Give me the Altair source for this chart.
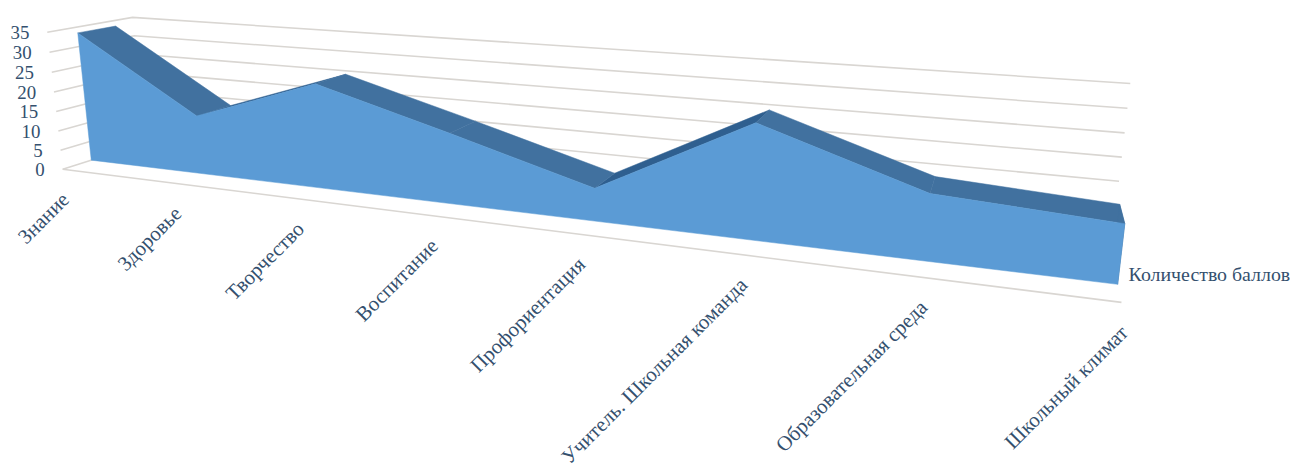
import numpy as np
import pandas as pd
import altair as alt

categories = ["Знание", "Здоровье", "Творчество", "Воспитание", "Профориентация",
              "Учитель. Школьная команда", "Образовательная среда", "Школьный климат"]
values = [33.5, 14.8, 25.5, 16.7, 7.5, 25.2, 14.0, 12.0]
axis_ticks = [0, 5, 10, 15, 20, 25, 30, 35]
series_name = "Количество баллов"

# camera calibration of the 3D box: (category, value, depth) -> page position
calib = [
    (0, 0, 0, 65, 168), (0, 35, 0, 48, 32), (0, 0, 1, 147, 149), (0, 35, 1, 133, 14),
    (7, 0, 1, 1118, 250), (7, 35, 1, 1137, 81), (7, 0, 0, 1129, 305), (7, 35, 0, 1151, 116),
    (0, 0, .33, 90, 158), (1, 0, .33, 200, 171), (2, 0, .33, 322, 186), (4, 0, .33, 600, 220),
    (5, 0, .33, 757, 240), (6, 0, .33, 931, 261), (7, 0, .33, 1123, 285),
]
A, b = [], []
for t, v, d, x, y in calib:
    X = [t / 7, v / 35, d, 1]
    A.append(X + [0, 0, 0, 0] + [-x * c for c in X[:3]]); b.append(x)
    A.append([0, 0, 0, 0] + X + [-y * c for c in X[:3]]); b.append(y)
P = np.append(np.linalg.lstsq(np.array(A, float), np.array(b, float), rcond=None)[0], 1).reshape(3, 4)


def proj(t, v, d):
    h = P @ np.array([t / 7, v / 35, d, 1])
    return float(h[0] / h[2]), float(h[1] / h[2])


D_FRONT, D_BACK = 0.33, 0.78
W, H = 1290, 462
xs = alt.Scale(domain=[8, 8 + W], range=[0, W])
ys = alt.Scale(domain=[8, 8 + H], range=[0, H])


def rows(group, pts):
    out = []
    for k, (t, v, d) in enumerate(pts):
        x, y = proj(t, v, d)
        out.append({"g": group, "k": k, "x": x, "y": y})
    return pd.DataFrame(out)


def poly(df, color):
    return alt.Chart(df).mark_line(fill=color, stroke=color, strokeWidth=0.5,
                                   interpolate="linear-closed").encode(
        x=alt.X("x:Q", scale=xs, axis=None), y=alt.Y("y:Q", scale=ys, axis=None),
        detail="g:N", order="k:Q")


grid = [rows(f"v{v}", [(0, v, 0), (0, v, 1), (7, v, 1)]) for v in axis_ticks]
grid.append(rows("floor", [(7, 0, 0), (0, 0, 0)]))
grid_layer = alt.Chart(pd.concat(grid)).mark_line(color="#d9d6d2", strokeWidth=1.6).encode(
    x=alt.X("x:Q", scale=xs, axis=None), y=alt.Y("y:Q", scale=ys, axis=None),
    detail="g:N", order="k:Q")

n = len(values)
down, up = [], []
for i in range(n - 1):
    q = rows(f"s{i}", [(i, values[i], D_FRONT), (i + 1, values[i + 1], D_FRONT),
                       (i + 1, values[i + 1], D_BACK), (i, values[i], D_BACK)])
    (up if values[i + 1] > values[i] else down).append(q)
down.append(rows("end", [(7, values[7], D_FRONT), (7, 0, D_FRONT), (7, 0, D_BACK), (7, values[7], D_BACK)]))

front = rows("front", [(i, values[i], D_FRONT) for i in range(n)] + [(7, 0, D_FRONT), (0, 0, D_FRONT)])

tick_df = pd.DataFrame([{"x": proj(0, v, 0)[0], "y": proj(0, v, 0)[1], "s": str(v)} for v in axis_ticks])
cat_df = pd.DataFrame([{"x": proj(i, 0, 0)[0], "y": proj(i, 0, 0)[1], "s": c} for i, c in enumerate(categories)])
ser_df = pd.DataFrame([{"x": proj(7, 0, D_FRONT)[0], "y": proj(7, 0, D_FRONT)[1], "s": series_name}])

TXT = "#34506e"


def text(df, **kw):
    return alt.Chart(df).mark_text(font="Liberation Serif", color=TXT, **kw).encode(
        x=alt.X("x:Q", scale=xs, axis=None), y=alt.Y("y:Q", scale=ys, axis=None), text="s:N")


chart = alt.layer(
    grid_layer,
    poly(pd.concat(up), "#2f5f8f"),
    poly(pd.concat(down), "#41719f"),
    poly(front, "#5b9bd5"),
    text(tick_df, align="right", baseline="middle", fontSize=19, dx=-18, dy=1),
    text(cat_df, align="right", baseline="middle", fontSize=21, angle=315, dx=-17, dy=22),
    text(ser_df, align="left", baseline="middle", fontSize=20, dx=11, dy=-9),
).properties(width=W, height=H, padding=0,
             autosize=alt.AutoSizeParams(type="none")).configure_view(stroke=None)

chart.save("out.html", embed_options={"renderer": "svg", "actions": False})
